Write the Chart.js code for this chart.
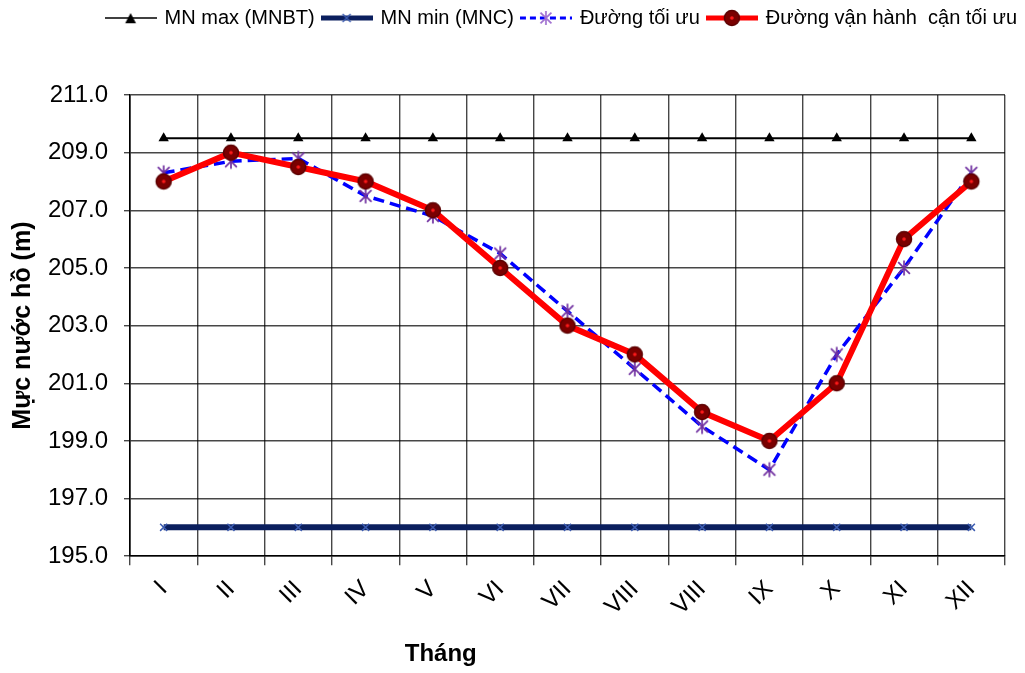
<!DOCTYPE html>
<html>
<head>
<meta charset="utf-8">
<script src="https://cdn.jsdelivr.net/npm/chart.js@4.4.0/dist/chart.umd.min.js"></script>
<style>
  html, body { margin: 0; padding: 0; background: #fff; }
  #wrap { width: 1025px; height: 673px; position: relative; }
</style>
</head>
<body>
<div id="wrap"><canvas id="chart"></canvas></div>
<script>
// Months (the eighth month appears twice on the axis)
const months = ['I', 'II', 'III', 'IV', 'V', 'VI', 'VII', 'VIII', 'VIII', 'IX', 'X', 'XI', 'XII'];

// Reservoir water levels (m)
const mnMax = [209.5, 209.5, 209.5, 209.5, 209.5, 209.5, 209.5, 209.5, 209.5, 209.5, 209.5, 209.5, 209.5];
const mnMin = [196.0, 196.0, 196.0, 196.0, 196.0, 196.0, 196.0, 196.0, 196.0, 196.0, 196.0, 196.0, 196.0];
const duongToiUu = [208.3, 208.7, 208.8, 207.5, 206.8, 205.5, 203.5, 201.5, 199.5, 198.0, 202.0, 205.0, 208.3];
const duongVanHanh = [208.0, 209.0, 208.5, 208.0, 207.0, 205.0, 203.0, 202.0, 200.0, 199.0, 201.0, 206.0, 208.0];

const seriesNames = ['MN max (MNBT)', 'MN min (MNC)', 'Đường tối ưu', 'Đường vận hành  cận tối ưu'];
const yAxisTitle = 'Mực nước hồ (m)';
const xAxisTitle = 'Tháng';
const yMin = 195, yMax = 211, yStep = 2;

const FONT = "'Liberation Sans', Arial, sans-serif";

function makeCanvas(w, h, draw) {
  const c = document.createElement('canvas');
  c.width = w; c.height = h;
  draw(c.getContext('2d'), w, h);
  return c;
}

function drawTriangle(g, x, y, r) {
  g.fillStyle = '#000';
  g.beginPath();
  g.moveTo(x, y - r);
  g.lineTo(x + r * 0.9, y + r * 0.7);
  g.lineTo(x - r * 0.9, y + r * 0.7);
  g.closePath();
  g.fill();
}
function drawCross(g, x, y, r, color) {
  g.strokeStyle = color; g.lineWidth = 1.5;
  g.beginPath();
  g.moveTo(x - r, y - r); g.lineTo(x + r, y + r);
  g.moveTo(x + r, y - r); g.lineTo(x - r, y + r);
  g.stroke();
}
function drawStar(g, x, y, r, color) {
  g.strokeStyle = color; g.lineWidth = 1.7;
  const d = r * 0.78;
  g.beginPath();
  g.moveTo(x, y - r); g.lineTo(x, y + r);
  g.moveTo(x - d, y - d); g.lineTo(x + d, y + d);
  g.moveTo(x + d, y - d); g.lineTo(x - d, y + d);
  g.stroke();
}
function drawRing(g, x, y, r) {
  g.fillStyle = '#7a0000';
  g.strokeStyle = '#5c0000'; g.lineWidth = 1.5;
  g.beginPath(); g.arc(x, y, r, 0, Math.PI * 2); g.fill(); g.stroke();
  g.fillStyle = '#ff1a1a';
  g.beginPath(); g.arc(x, y, 1.8, 0, Math.PI * 2); g.fill();
}

// point markers
const starMarker = makeCanvas(18, 18, (g) => drawStar(g, 9, 9, 7.5, '#7030a0'));
const ringMarker = makeCanvas(20, 20, (g) => drawRing(g, 10, 10, 7.5));

// legend icons: line segment with marker
const ICON_W = 52;
function legendIcon(lineColor, lineWidth, dash, marker) {
  return makeCanvas(ICON_W, 18, (g, w, h) => {
    g.strokeStyle = lineColor; g.lineWidth = lineWidth; g.setLineDash(dash);
    g.beginPath(); g.moveTo(0, h / 2); g.lineTo(w, h / 2); g.stroke();
    g.setLineDash([]);
    marker(g, w / 2, h / 2);
  });
}
const legendIcons = [
  legendIcon('#000', 1.6, [], (g, x, y) => drawTriangle(g, x, y + 1, 6)),
  legendIcon('#0b1f5e', 5, [], (g, x, y) => drawCross(g, x, y, 4, '#3b5bb0')),
  legendIcon('#0000ff', 3, [6, 4], (g, x, y) => drawStar(g, x, y, 7, '#a070d0')),
  legendIcon('#ff0000', 5, [], (g, x, y) => drawRing(g, x, y, 7.5))
];

// extra room under the legend, and legend flush with the canvas edge
const legendPlacement = {
  id: 'legendPlacement',
  beforeInit(chart) {
    const fit = chart.legend.fit;
    chart.legend.fit = function () {
      fit.bind(chart.legend)();
      this.height += 57;
    };
  },
  beforeDraw(chart) {
    chart.legend.right = chart.width;
  }
};

// x axis title
const xTitlePlugin = {
  id: 'xTitlePlugin',
  afterDraw(chart) {
    const ctx = chart.ctx;
    ctx.save();
    ctx.font = "bold 24px " + FONT;
    ctx.fillStyle = '#000';
    ctx.textAlign = 'center';
    ctx.textBaseline = 'middle';
    ctx.fillText(xAxisTitle, chart.width * 0.43, chart.height - 19);
    ctx.restore();
  }
};

const gridColor = 'rgba(0,0,0,0.72)';

new Chart(document.getElementById('chart'), {
  type: 'line',
  data: {
    labels: months,
    datasets: [
      {
        label: seriesNames[0], data: mnMax, order: 3,
        borderColor: '#000', borderWidth: 1.8,
        pointStyle: 'triangle', pointRadius: 6, pointBackgroundColor: '#000', pointBorderColor: '#000', pointBorderWidth: 0
      },
      {
        label: seriesNames[1], data: mnMin, order: 2,
        borderColor: '#0b1f5e', borderWidth: 6,
        pointStyle: 'crossRot', pointRadius: 5, pointBorderColor: '#3b5bb0', pointBorderWidth: 1.5
      },
      {
        label: seriesNames[2], data: duongToiUu, order: 1,
        borderColor: '#0000ff', borderWidth: 3.5, borderDash: [11, 6],
        pointStyle: starMarker
      },
      {
        label: seriesNames[3], data: duongVanHanh, order: 0,
        borderColor: '#ff0000', borderWidth: 6,
        pointStyle: ringMarker
      }
    ]
  },
  options: {
    responsive: true,
    maintainAspectRatio: false,
    animation: false,
    layout: { padding: { top: 0, right: 20, bottom: 42, left: 4 } },
    plugins: {
      legend: {
        position: 'top',
        align: 'end',
        labels: {
          usePointStyle: true,
          pointStyleWidth: 48,
          boxHeight: 18,
          padding: 8,
          color: '#000',
          font: { family: FONT, size: 20 },
          generateLabels(chart) {
            return chart.data.datasets.map((ds, i) => ({
              text: ds.label,
              pointStyle: legendIcons[i],
              fillStyle: 'transparent',
              strokeStyle: 'transparent',
              lineWidth: 0,
              fontColor: '#000',
              hidden: false,
              datasetIndex: i
            }));
          }
        }
      },
      tooltip: { enabled: false }
    },
    scales: {
      x: {
        offset: true,
        grid: { offset: true, color: gridColor, lineWidth: 1.4, tickLength: 9 },
        border: { color: '#000', width: 1.6 },
        ticks: {
          minRotation: 45, maxRotation: 45, padding: 10,
          color: '#000', font: { family: FONT, size: 24 }
        },
        title: { display: false }
      },
      y: {
        min: yMin, max: yMax,
        afterFit(scale) { scale.width = 126; },
        grid: { color: gridColor, lineWidth: 1.4, tickLength: 6 },
        border: { color: '#000', width: 1.6 },
        ticks: {
          stepSize: yStep, padding: 16,
          color: '#000', font: { family: FONT, size: 24 },
          callback: (v) => v.toFixed(1)
        },
        title: {
          display: true, text: yAxisTitle, color: '#000',
          font: { family: FONT, size: 25, weight: 'bold' },
          padding: { top: 4, bottom: 10 }
        }
      }
    }
  },
  plugins: [legendPlacement, xTitlePlugin]
});
</script>
</body>
</html>
